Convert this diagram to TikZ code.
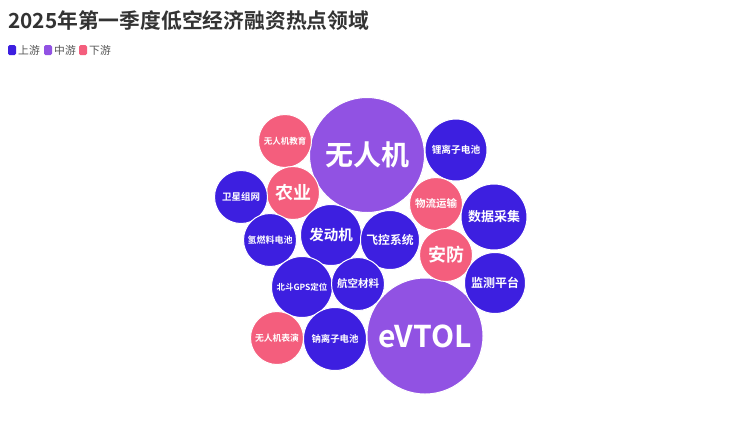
\documentclass[tikz,border=0pt]{standalone}
\usepackage{fontspec}
\setmainfont{Noto Sans CJK SC}
\newfontfamily\cjkbold{Noto Sans CJK SC Bold}
\definecolor{upc}{HTML}{3D1FE0}
\definecolor{midc}{HTML}{9152E3}
\definecolor{downc}{HTML}{F45E7D}
\definecolor{titlec}{HTML}{333333}
\definecolor{legc}{HTML}{555555}
\tikzset{
  bub/.style={circle, inner sep=0pt, draw=white, line width=1pt, text=white, font=\cjkbold},
  upb/.style={bub, fill=upc},
  midb/.style={bub, fill=midc},
  downb/.style={bub, fill=downc},
  legbox/.style={rounded corners=1.5pt, minimum width=8pt, minimum height=10pt, inner sep=0pt},
  legtxt/.style={anchor=west, inner sep=0pt, text=legc, font=\fontsize{10.8}{12}\selectfont},
}
\begin{document}
\begin{tikzpicture}[x=1pt,y=-1pt]
\useasboundingbox[fill=white] (0,0) rectangle (730,421);
\node[anchor=west, inner sep=0pt, text=titlec, font=\cjkbold\fontsize{20.8}{24}\selectfont] (title) at (8,21) {2025年第一季度低空经济融资热点领域};
% legend
\node[legbox, fill=upc] (l1) at (12,50) {};
\node[legtxt] (t1) at (18,50) {上游};
\node[legbox, fill=midc] (l2) at (48,50) {};
\node[legtxt] (t2) at (54,50) {中游};
\node[legbox, fill=downc] (l3) at (83,50) {};
\node[legtxt] (t3) at (89,50) {下游};
% bubbles
\node[midb, minimum size=115pt, font=\cjkbold\fontsize{28}{30}\selectfont] (wrj) at (367,155) {无人机};
\node[midb, minimum size=116pt, font=\cjkbold\fontsize{30}{32}\selectfont] (evtol) at (425,336) {eVTOL};
\node[upb, minimum size=62pt, font=\cjkbold\fontsize{9.7}{11}\selectfont] (li) at (456,150) {锂离子电池};
\node[downb, minimum size=53pt, font=\cjkbold\fontsize{8.5}{10}\selectfont] (jy) at (285,141) {无人机教育};
\node[downb, minimum size=53pt, font=\cjkbold\fontsize{18}{20}\selectfont] (ny) at (293,193) {农业};
\node[upb, minimum size=53pt, font=\cjkbold\fontsize{9.5}{11}\selectfont] (wx) at (241,197) {卫星组网};
\node[upb, minimum size=53pt, font=\cjkbold\fontsize{9}{11}\selectfont] (qr) at (270,240) {氢燃料电池};
\node[upb, minimum size=61pt, font=\cjkbold\fontsize{14.5}{16}\selectfont] (fdj) at (331,235) {发动机};
\node[upb, minimum size=59pt, font=\cjkbold\fontsize{11.8}{13}\selectfont] (fk) at (390,240) {飞控系统};
\node[downb, minimum size=53pt, font=\cjkbold\fontsize{10.5}{12}\selectfont] (wl) at (436,204) {物流运输};
\node[upb, minimum size=66pt, font=\cjkbold\fontsize{13}{15}\selectfont] (sj) at (494,217) {数据采集};
\node[downb, minimum size=53pt, font=\cjkbold\fontsize{18}{20}\selectfont] (af) at (446,255) {安防};
\node[upb, minimum size=61pt, font=\cjkbold\fontsize{12}{14}\selectfont] (jc) at (495,283) {监测平台};
\node[upb, minimum size=61pt, font=\cjkbold\fontsize{8.5}{10}\selectfont] (bd) at (302,287) {北斗GPS定位};
\node[upb, minimum size=53pt, font=\cjkbold\fontsize{10.5}{12}\selectfont] (hk) at (358,284) {航空材料};
\node[downb, minimum size=53pt, font=\cjkbold\fontsize{8.8}{10}\selectfont] (by) at (277,338) {无人机表演};
\node[upb, minimum size=63pt, font=\cjkbold\fontsize{9.4}{11}\selectfont] (na) at (335,339) {钠离子电池};
\end{tikzpicture}
\end{document}
